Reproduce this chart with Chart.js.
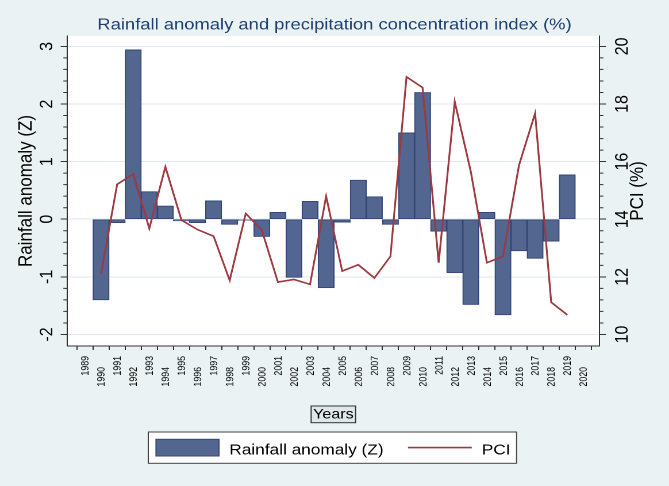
<!DOCTYPE html>
<html>
<head>
<meta charset="utf-8">
<script src="https://cdn.jsdelivr.net/npm/chart.js@4.4.1/dist/chart.umd.min.js"></script>
<style>
  html, body { margin: 0; padding: 0; background: #eaf2f3; overflow: hidden; }
  /* the reference is stretched sideways, so the chart is drawn narrow and widened */
  #wrap { width: 582px; height: 486px; transform: scaleX(1.1495); transform-origin: 0 0; }
</style>
</head>
<body>
<div id="wrap"><canvas id="rainChart"></canvas></div>
<script>
const years = [1990, 1991, 1992, 1993, 1994, 1995, 1996, 1997, 1998, 1999,
               2000, 2001, 2002, 2003, 2004, 2005, 2006, 2007, 2008, 2009,
               2010, 2011, 2012, 2013, 2014, 2015, 2016, 2017, 2018, 2019];
const anomaly = [-1.40, -0.06, 2.94, 0.48, 0.23, -0.03, -0.06, 0.32, -0.09, -0.02,
                 -0.30, 0.12, -1.01, 0.31, -1.19, -0.05, 0.68, 0.39, -0.09, 1.50,
                 2.20, -0.21, -0.93, -1.48, 0.12, -1.66, -0.55, -0.68, -0.38, 0.77];
const pci = [12.11, 15.21, 15.57, 13.68, 15.82, 13.97, 13.64, 13.41, 11.88, 14.20,
             13.62, 11.82, 11.91, 11.74, 14.80, 12.20, 12.42, 11.96, 12.71, 18.94,
             18.57, 12.49, 18.08, 15.65, 12.49, 12.71, 15.88, 17.68, 11.12, 10.68];

const yearTicks = [1989, 1990, 1991, 1992, 1993, 1994, 1995, 1996, 1997, 1998, 1999,
                   2000, 2001, 2002, 2003, 2004, 2005, 2006, 2007, 2008, 2009, 2010,
                   2011, 2012, 2013, 2014, 2015, 2016, 2017, 2018, 2019, 2020];
const zTicks = [-2, -1, 0, 1, 2, 3];
const pciTicks = [10, 12, 14, 16, 18, 20];

const FONT = "'Liberation Sans', Arial, sans-serif";
Chart.defaults.font.family = FONT;

// white plot region, minor ticks, rotated labels, boxed axis title and legend
const stataLook = {
  id: 'stataLook',
  beforeDraw(chart) {
    const { ctx, chartArea: a } = chart;
    ctx.save();
    ctx.fillStyle = '#ffffff';
    ctx.fillRect(a.left, a.top, a.right - a.left, a.bottom - a.top);
    ctx.restore();
  },
  afterDraw(chart) {
    const { ctx, chartArea: a, scales } = chart;
    const font = px => px + 'px ' + FONT;

    function vtext(str, px, py, align, baseline, size) {
      ctx.save();
      ctx.translate(px, py);
      ctx.rotate(-Math.PI / 2);
      ctx.font = font(size);
      ctx.fillStyle = '#000';
      ctx.textAlign = align;
      ctx.textBaseline = baseline;
      ctx.fillText(str, 0, 0);
      ctx.restore();
    }

    ctx.save();

    // minor ticks (5 per major step)
    ctx.strokeStyle = '#333';
    ctx.lineWidth = 1;
    ctx.beginPath();
    for (let i = 0; i < zTicks.length; i++) {
      for (let k = -4; k <= 4; k++) {
        if (k === 0) continue;
        const v = zTicks[i] + k * 0.2;
        if (k > 0 && i === zTicks.length - 1 || k < 0 && i === 0) {
          if (v <= scales.y.min + 0.01 || v >= scales.y.max - 0.01) continue;
        } else if (k < 0) continue;
        const py = scales.y.getPixelForValue(v);
        ctx.moveTo(a.left - 3.2, py);
        ctx.lineTo(a.left, py);
      }
    }
    for (let i = 0; i < pciTicks.length; i++) {
      for (let k = -4; k <= 4; k++) {
        if (k === 0) continue;
        const v = pciTicks[i] + k * 0.4;
        if (k > 0 && i === pciTicks.length - 1 || k < 0 && i === 0) {
          if (v <= scales.y1.min + 0.01 || v >= scales.y1.max - 0.01) continue;
        } else if (k < 0) continue;
        const py = scales.y1.getPixelForValue(v);
        ctx.moveTo(a.right, py);
        ctx.lineTo(a.right + 3.2, py);
      }
    }
    ctx.stroke();

    // tick labels
    zTicks.forEach(v => vtext(String(v), a.left - 12.6, scales.y.getPixelForValue(v), 'center', 'alphabetic', 16));
    pciTicks.forEach(v => vtext(String(v), a.right + 24.5, scales.y1.getPixelForValue(v), 'center', 'alphabetic', 16));
    yearTicks.forEach((v, i) => {
      vtext(String(v), scales.x.getPixelForValue(v) + 0.8, a.bottom + (i % 2 ? 21 : 10), 'right', 'middle', 8.8);
    });

    // axis titles
    const midY = (a.top + a.bottom) / 2;
    vtext('Rainfall anomaly (Z)', a.left - 31, midY, 'center', 'alphabetic', 17);
    vtext('PCI (%)', a.right + 37.7, midY, 'center', 'alphabetic', 17);

    // boxed x title
    const midX = (a.left + a.right) / 2;
    ctx.font = font(14);
    const yw = ctx.measureText('Years').width + 3.4;
    ctx.fillStyle = '#dfe7ea';
    ctx.fillRect(midX - yw / 2, 406, yw, 16.7);
    ctx.strokeStyle = '#333';
    ctx.strokeRect(midX - yw / 2, 406, yw, 16.7);
    ctx.fillStyle = '#000';
    ctx.textAlign = 'center';
    ctx.textBaseline = 'middle';
    ctx.fillText('Years', midX, 414.8);

    // legend
    const bars = chart.data.datasets[0];
    const line = chart.data.datasets[1];
    const lx = 129, ly = 432, lw = 320.4, lh = 31.3;
    ctx.fillStyle = '#ffffff';
    ctx.fillRect(lx, ly, lw, lh);
    ctx.strokeStyle = '#444';
    ctx.strokeRect(lx, ly, lw, lh);
    ctx.fillStyle = bars.backgroundColor;
    ctx.fillRect(lx + 6.7, 439.3, 54.8, 16.7);
    ctx.strokeStyle = bars.borderColor;
    ctx.strokeRect(lx + 6.7, 439.3, 54.8, 16.7);
    ctx.strokeStyle = line.borderColor;
    ctx.lineWidth = line.borderWidth;
    ctx.beginPath();
    ctx.moveTo(lx + 225.9, 447.6);
    ctx.lineTo(lx + 281.4, 447.6);
    ctx.stroke();
    ctx.fillStyle = '#000';
    ctx.font = font(15);
    ctx.textAlign = 'left';
    ctx.textBaseline = 'alphabetic';
    ctx.fillText(bars.label, lx + 70.5, 454.5);
    ctx.fillText(line.label, lx + 290.1, 454.5);

    ctx.restore();
  }
};

const ctx = document.getElementById('rainChart');
new Chart(ctx, {
  type: 'bar',
  data: {
    datasets: [
      {
        type: 'bar',
        label: 'Rainfall anomaly (Z)',
        data: years.map((yr, i) => ({ x: yr, y: anomaly[i] })),
        backgroundColor: '#53668f',
        borderColor: '#34467a',
        borderWidth: 1,
        borderSkipped: false,
        barPercentage: 1,
        categoryPercentage: 1,
        yAxisID: 'y',
        order: 1
      },
      {
        type: 'line',
        label: 'PCI',
        data: years.map((yr, i) => ({ x: yr, y: pci[i] })),
        borderColor: '#9b3a41',
        borderWidth: 1.6,
        pointRadius: 0,
        tension: 0,
        fill: false,
        yAxisID: 'y1',
        order: 0
      }
    ]
  },
  options: {
    responsive: true,
    maintainAspectRatio: false,
    animation: false,
    devicePixelRatio: 2,
    layout: { padding: 0 },
    scales: {
      x: {
        type: 'linear',
        min: 1988.4,
        max: 2020.5,
        afterBuildTicks: s => { s.ticks = yearTicks.map(v => ({ value: v })); },
        afterFit: s => { s.height = 140; },
        grid: { drawOnChartArea: false, tickLength: 4, tickColor: '#333' },
        border: { color: '#333' },
        ticks: { display: false }
      },
      y: {
        position: 'left',
        min: -2.2,
        max: 3.18,
        afterBuildTicks: s => { s.ticks = zTicks.map(v => ({ value: v })); },
        afterFit: s => { s.width = 58.3; },
        grid: { color: '#e1eaed', tickColor: '#333', tickLength: 5.5 },
        border: { color: '#333' },
        ticks: { display: false }
      },
      y1: {
        position: 'right',
        min: 9.6,
        max: 20.36,
        afterBuildTicks: s => { s.ticks = pciTicks.map(v => ({ value: v })); },
        afterFit: s => { s.width = 60.3; },
        grid: { drawOnChartArea: false, tickColor: '#333', tickLength: 5.5 },
        border: { color: '#333' },
        ticks: { display: false }
      }
    },
    plugins: {
      legend: { display: false },
      tooltip: { enabled: false },
      title: {
        display: true,
        text: 'Rainfall anomaly and precipitation concentration index (%)',
        color: '#1d4070',
        font: { size: 16, weight: 'normal' },
        padding: { top: 15.5, bottom: 1.3 }
      }
    }
  },
  plugins: [stataLook]
});
</script>
</body>
</html>
